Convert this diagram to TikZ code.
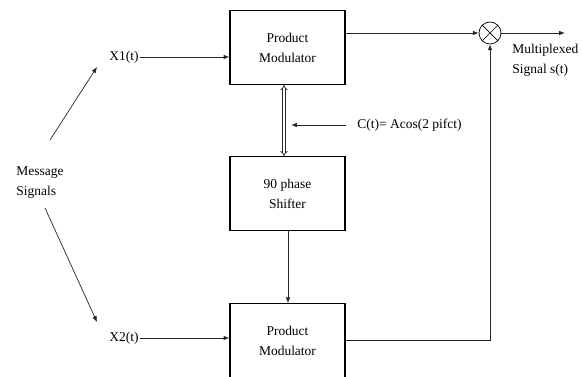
\documentclass[tikz,border=0pt]{standalone}
\usepackage{fontspec}
\setmainfont{Liberation Serif}
\usetikzlibrary{positioning, arrows.meta}
\tikzset{
  modblock/.style = {draw, line width=1pt, minimum width=3.45cm, minimum height=2.22cm, align=center, font=\fontsize{11.5}{17}\selectfont},
  mixer/.style    = {draw, circle, line width=0.6pt, minimum size=0.66cm, inner sep=0pt},
  sig/.style      = {align=left, font=\fontsize{11.5}{17}\selectfont, inner sep=1pt},
  arrow/.style    = {-{Latex[length=5pt, width=4pt]}, line width=0.8pt, black!85},
  dblarrow/.style = {{Implies}-{Implies}, double, double distance=1.6pt, line width=0.6pt, black!85}
}
\begin{document}
\begin{tikzpicture}[x=0.03cm, y=-0.03cm]
  \useasboundingbox (0,0) rectangle (582,377);
  % blocks
  \node[modblock]                          (mod1) at (287.5,47.5) {Product\\Modulator};
  \node[modblock, below=2.13cm of mod1]   (shift) {90 phase\\Shifter};
  \node[modblock, below=2.16cm of shift]  (mod2) {Product\\Modulator};
  \node[mixer] (mix) at (490,33) {};
  \draw[line width=0.6pt] (mix.135) -- (mix.-45) (mix.45) -- (mix.-135);
  % labels
  \node[sig] (msg) at (40,183) {Message\\Signals};
  \node[sig] (x1) at (124,57) {X1(t)};
  \node[sig] (x2) at (124,338) {X2(t)};
  \node[sig, anchor=west] (carrier) at (356,125) {C(t)= Acos(2 pifct)};
  \node[sig, anchor=north west] (out) at (511,43) {Multiplexed\\Signal s(t)};
  \coordinate (m1) at (50,140);
  \coordinate (t1) at (97,67);
  \coordinate (m2) at (45,208);
  \coordinate (t2) at (97,322);
  \coordinate (outend) at (565,33);
  % connectors
  \draw[arrow, line width=0.6pt] (m1) -- (t1);
  \draw[arrow, line width=0.6pt] (m2) -- (t2);
  \draw[arrow] (x1.east) -- (mod1.west |- x1);
  \draw[arrow] (x2.east) -- (mod2.west |- x2);
  \draw[dblarrow] (mod1.south -| 284,0) -- (shift.north -| 284,0);
  \draw[arrow] (carrier.west -| mod1.east) -- (carrier.west -| 291,0);
  \draw[arrow] (shift.south -| 288,0) -- (mod2.north -| 288,0);
  \draw[arrow] (mod1.east |- mix) -- (mix.west);
  \draw[arrow] (mix.east) -- (outend);
  \draw[arrow] (mod2.east) -| (mix.south);
\end{tikzpicture}
\end{document}
